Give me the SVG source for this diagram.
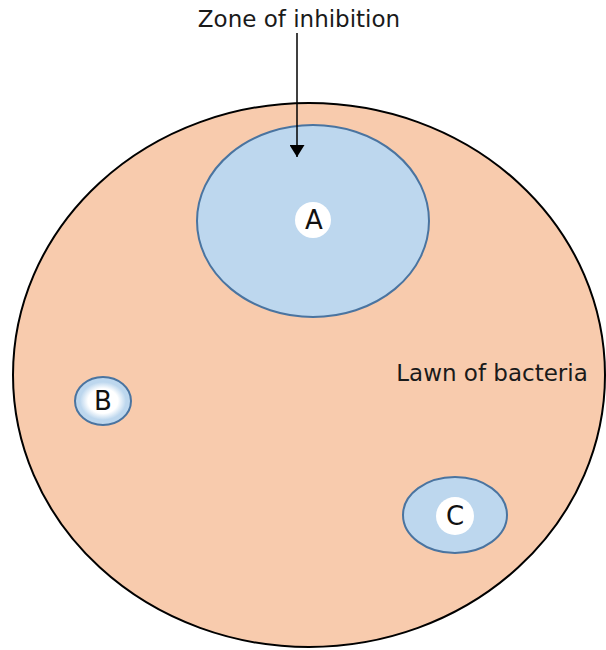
<svg xmlns="http://www.w3.org/2000/svg" width="606" height="650" viewBox="0 0 606 650">
<defs>
<style>
.lbl{font-family:"DejaVu Sans","Open Sans",sans-serif;font-size:23px;fill:#1a1a1a}
.letter{font-family:"DejaVu Sans","Open Sans",sans-serif;font-size:26px;fill:#111}
.zone{fill:#BDD7EE;stroke:#4A74A0;stroke-width:2}
.disc{fill:#fff}
</style>
<radialGradient id="bg" cx="0.5" cy="0.5" r="0.5">
<stop offset="0.65" stop-color="#fff"/>
<stop offset="1" stop-color="#BDD7EE"/>
</radialGradient>
<marker id="ah" viewBox="0 0 12 15" refX="12" refY="7.5" markerWidth="12" markerHeight="15" markerUnits="userSpaceOnUse" orient="auto">
<path d="M0,0 L12,7.5 L0,15 z" fill="#000"/>
</marker>
</defs>
<rect width="606" height="650" fill="#fff"/>
<g id="lawn">
<ellipse cx="309" cy="375" rx="296" ry="272" fill="#F8CBAD" stroke="#000" stroke-width="2"/>
<text class="lbl" x="492" y="381" text-anchor="middle">Lawn of bacteria</text>
</g>
<g id="A">
<ellipse class="zone" cx="313" cy="221" rx="116" ry="96"/>
<circle class="disc" cx="313" cy="220" r="18"/>
<text class="letter" x="314" y="229" text-anchor="middle">A</text>
</g>
<g id="B">
<ellipse class="zone" cx="103" cy="401" rx="28" ry="24"/>
<ellipse cx="103" cy="401" rx="23" ry="19" fill="url(#bg)"/>
<text class="letter" x="103" y="410" text-anchor="middle">B</text>
</g>
<g id="C">
<ellipse class="zone" cx="455" cy="515" rx="52" ry="38"/>
<circle class="disc" cx="455" cy="516" r="19"/>
<text class="letter" x="455" y="525" text-anchor="middle">C</text>
</g>
<g id="zone-label">
<text class="lbl" x="299" y="27" text-anchor="middle">Zone of inhibition</text>
</g>
<g id="connectors">
<line x1="297" y1="33" x2="297" y2="157" stroke="#000" stroke-width="1.5" marker-end="url(#ah)"/>
</g>
</svg>
